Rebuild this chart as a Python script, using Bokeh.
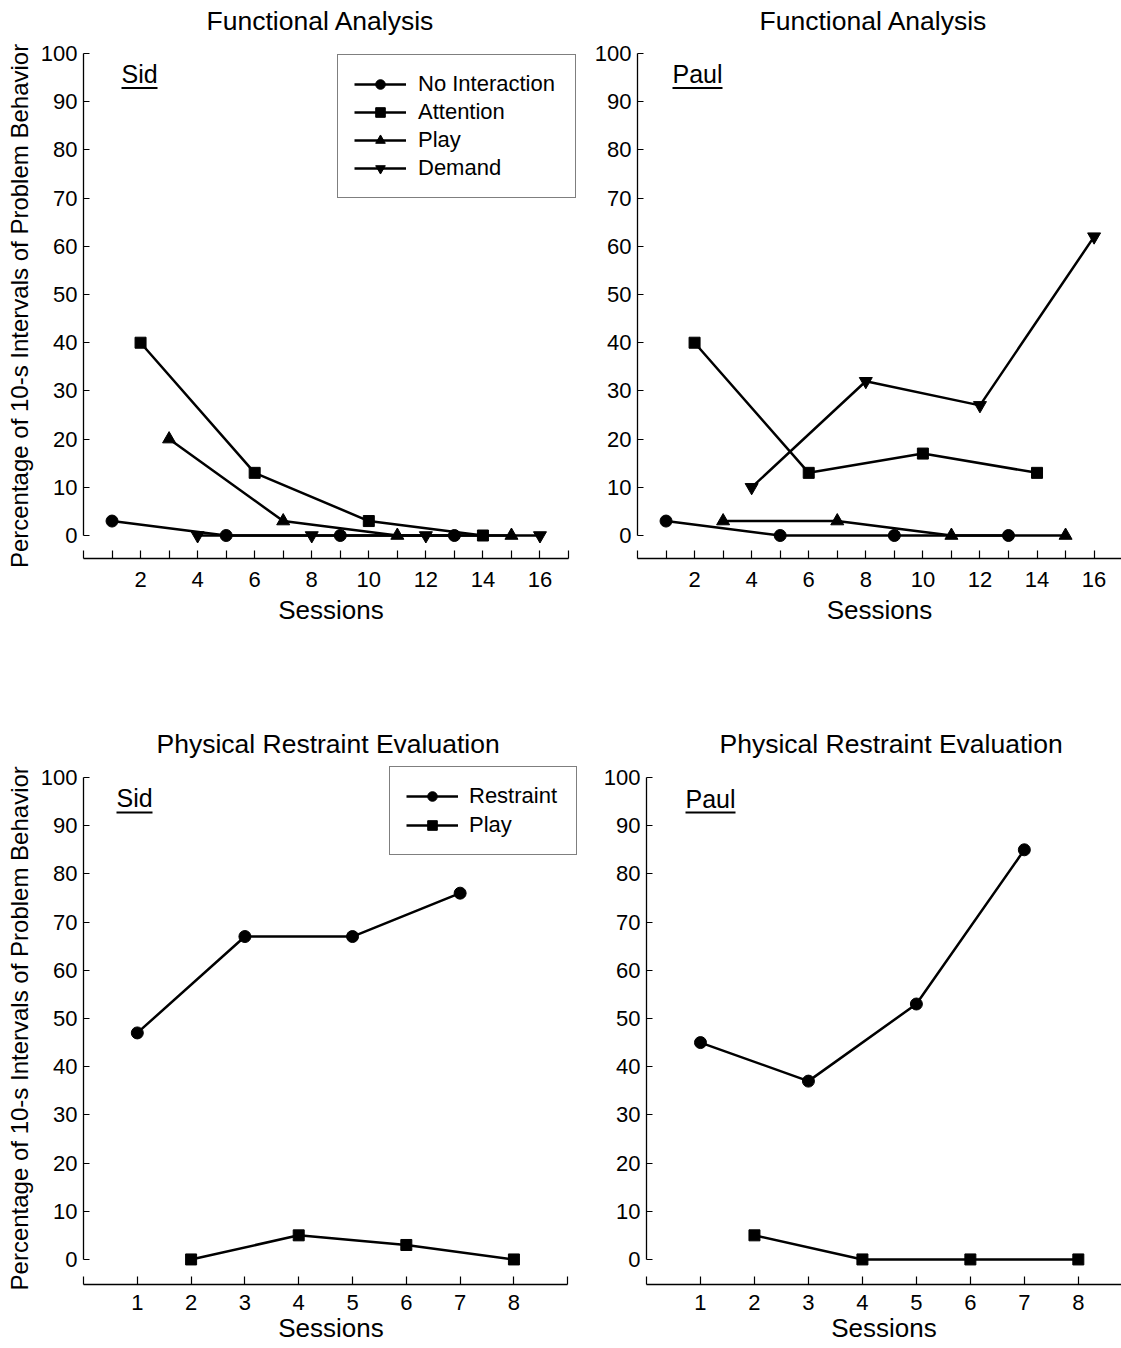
from bokeh.plotting import figure
from bokeh.models import Range1d, FixedTicker, Legend, LegendItem, Label, BoxAnnotation, Title
from bokeh.layouts import column, row
from bokeh.embed import file_html
from bokeh.resources import INLINE

FONT = "Liberation Sans"

# ---------------- data ----------------
fa_noint_x = [1, 5, 9, 13]
fa_att_x = [2, 6, 10, 14]
fa_play_x = [3, 7, 11, 15]
fa_dem_x = [4, 8, 12, 16]

sid_fa_noint = [3, 0, 0, 0]
sid_fa_att = [40, 13, 3, 0]
sid_fa_play = [20, 3, 0, 0]
sid_fa_dem = [0, 0, 0, 0]

paul_fa_noint = [3, 0, 0, 0]
paul_fa_att = [40, 13, 17, 13]
paul_fa_play = [3, 3, 0, 0]
paul_fa_dem = [10, 32, 27, 62]

pr_restraint_x = [1, 3, 5, 7]
pr_play_x = [2, 4, 6, 8]
sid_pr_restraint = [47, 67, 67, 76]
sid_pr_play = [0, 5, 3, 0]
paul_pr_restraint = [45, 37, 53, 85]
paul_pr_play = [5, 0, 0, 0]

fa_labels = ["No Interaction", "Attention", "Play", "Demand"]
pr_labels = ["Restraint", "Play"]

y_ticks = list(range(0, 101, 10))
fa_x_ticks = [2, 4, 6, 8, 10, 12, 14, 16]
fa_x_minor = [0, 1, 3, 5, 7, 9, 11, 13, 15, 17]
pr_x_ticks = [1, 2, 3, 4, 5, 6, 7, 8]
pr_x_minor = [0, 9]

fa_title = "Functional Analysis"
pr_title = "Physical Restraint Evaluation"
y_label_top = "Percentage of 10-s Intervals of Problem Behavior"
y_label_bottom = "Percentage of 10-s  Intervals of Problem Behavior"
x_label = "Sessions"

FA_MARKERS = [("circle", 12), ("square", 11), ("triangle", 13), ("inverted_triangle", 13)]
PR_MARKERS = [("circle", 12), ("square", 11)]


def panel(title, name, xs_list, ys_list, labels, markers, x_end, x_bound,
          major, minor, y_range, width, height, mb, title_cfg, y_label,
          legend_cfg, name_cfg, x_std):
    p = figure(width=width, height=height,
               x_range=Range1d(0, x_end), y_range=Range1d(*y_range),
               output_backend="svg", toolbar_location=None,
               min_border_left=mb[0], min_border_right=mb[1],
               min_border_top=mb[2], min_border_bottom=mb[3])
    p.title = None
    p.xgrid.visible = False
    p.ygrid.visible = False
    p.outline_line_color = None
    p.background_fill_color = "white"
    p.border_fill_color = "white"

    t_off, spacer_px = title_cfg
    p.add_layout(Title(text=" ", text_font=FONT, text_font_size=f"{spacer_px}px",
                       standoff=0), "above")
    p.add_layout(Title(text=title, align="left", offset=t_off,
                       vertical_align="bottom", standoff=0,
                       text_font=FONT, text_font_size="26.5px",
                       text_font_style="normal", text_color="black"), "above")

    xa = p.xaxis[0]
    xa.ticker = FixedTicker(ticks=major, minor_ticks=minor)
    xa.bounds = (0, x_bound)
    xa.axis_line_color = "black"
    xa.axis_line_width = 1.3
    xa.major_tick_in = 8
    xa.major_tick_out = 0
    xa.minor_tick_in = 8
    xa.minor_tick_out = 0
    xa.major_tick_line_color = "black"
    xa.minor_tick_line_color = "black"
    xa.major_tick_line_width = 1.2
    xa.minor_tick_line_width = 1.2
    xa.major_label_text_font = FONT
    xa.major_label_text_font_size = "22px"
    xa.major_label_text_color = "black"
    xa.major_label_standoff = x_std[0]
    xa.axis_label = x_label
    xa.axis_label_text_font = FONT
    xa.axis_label_text_font_size = "26px"
    xa.axis_label_text_font_style = "normal"
    xa.axis_label_text_color = "black"
    xa.axis_label_standoff = x_std[1]

    ya = p.yaxis[0]
    ya.ticker = FixedTicker(ticks=y_ticks, minor_ticks=[])
    ya.bounds = (0, 100)
    ya.axis_line_color = "black"
    ya.axis_line_width = 1.3
    ya.major_tick_in = 6
    ya.major_tick_out = 0
    ya.minor_tick_in = 0
    ya.minor_tick_out = 0
    ya.major_tick_line_color = "black"
    ya.major_tick_line_width = 1.2
    ya.major_label_text_font = FONT
    ya.major_label_text_font_size = "22px"
    ya.major_label_text_color = "black"
    ya.major_label_standoff = 6
    if y_label:
        ya.axis_label = y_label
        ya.axis_label_text_font = FONT
        ya.axis_label_text_font_size = "24px"
        ya.axis_label_text_font_style = "normal"
        ya.axis_label_text_color = "black"
        ya.axis_label_standoff = 5

    items = []
    for xs, ys, lab, (mk, sz) in zip(xs_list, ys_list, labels, markers):
        lr = p.line(xs, ys, line_color="black", line_width=2.5)
        sr = p.scatter(xs, ys, marker=mk, size=sz, fill_color="black",
                       line_color="black", line_width=1)
        items.append(LegendItem(label=lab, renderers=[lr, sr]))

    if legend_cfg is not None:
        leg = Legend(items=items, location=legend_cfg["loc"],
                     orientation="vertical",
                     border_line_color="black", border_line_width=1.2,
                     background_fill_color="white", background_fill_alpha=1,
                     padding=legend_cfg["pad"], spacing=legend_cfg["sp"], margin=0,
                     glyph_width=52, glyph_height=24,
                     label_height=24, label_width=legend_cfg["lw"],
                     label_standoff=legend_cfg["so"],
                     label_text_font=FONT, label_text_font_size="22px",
                     label_text_color="black")
        p.add_layout(leg)

    nx, ny, uy, uw = name_cfg
    p.add_layout(Label(x=nx, y=ny, x_units="screen", y_units="screen",
                       text=name, text_font=FONT, text_font_size="25px",
                       text_color="black", text_baseline="middle"))
    p.add_layout(BoxAnnotation(left=nx, right=nx + uw, bottom=uy - 1, top=uy + 1,
                               left_units="screen", right_units="screen",
                               bottom_units="screen", top_units="screen",
                               fill_color="black", fill_alpha=1, line_color=None))
    return p


p1 = panel(fa_title, "Sid",
           [fa_noint_x, fa_att_x, fa_play_x, fa_dem_x],
           [sid_fa_noint, sid_fa_att, sid_fa_play, sid_fa_dem],
           fa_labels, FA_MARKERS, 17.35, 17, fa_x_ticks, fa_x_minor, (-4.77, 100),
           580, 700, (83, 2, 53, 142), (123, 14), y_label_top,
           {"loc": (254, 360), "pad": 16, "sp": 2, "lw": 141, "so": 12},
           (38, 485, 470.5, 36), (13, 5))

p2 = panel(fa_title, "Paul",
           [fa_noint_x, fa_att_x, fa_play_x, fa_dem_x],
           [paul_fa_noint, paul_fa_att, paul_fa_play, paul_fa_dem],
           fa_labels, FA_MARKERS, 16.96, 17, fa_x_ticks, fa_x_minor, (-4.77, 100),
           541, 700, (57, 0, 53, 142), (122, 14), None,
           None, (35, 485, 470.5, 50), (13, 5))

p3 = panel(pr_title, "Sid",
           [pr_restraint_x, pr_play_x],
           [sid_pr_restraint, sid_pr_play],
           pr_labels, PR_MARKERS, 9.2, 9, pr_x_ticks, pr_x_minor, (-5.2, 102.49),
           580, 648, (83, 2, 65, 64), (73, 4), y_label_bottom,
           {"loc": (306, 429), "pad": 16, "sp": 3, "lw": 91, "so": 11},
           (33, 486.5, 472, 36), (10, 0))

p4 = panel(pr_title, "Paul",
           [pr_restraint_x, pr_play_x],
           [paul_pr_restraint, paul_pr_play],
           pr_labels, PR_MARKERS, 8.8, 9, pr_x_ticks, pr_x_minor, (-5.2, 102.49),
           541, 648, (66, 0, 65, 64), (73, 4), None,
           None, (39, 486, 472, 50), (10, 0))

layout = column(row(p1, p2, spacing=0), row(p3, p4, spacing=0), spacing=0)

open("out.html", "w").write(file_html(layout, INLINE))
